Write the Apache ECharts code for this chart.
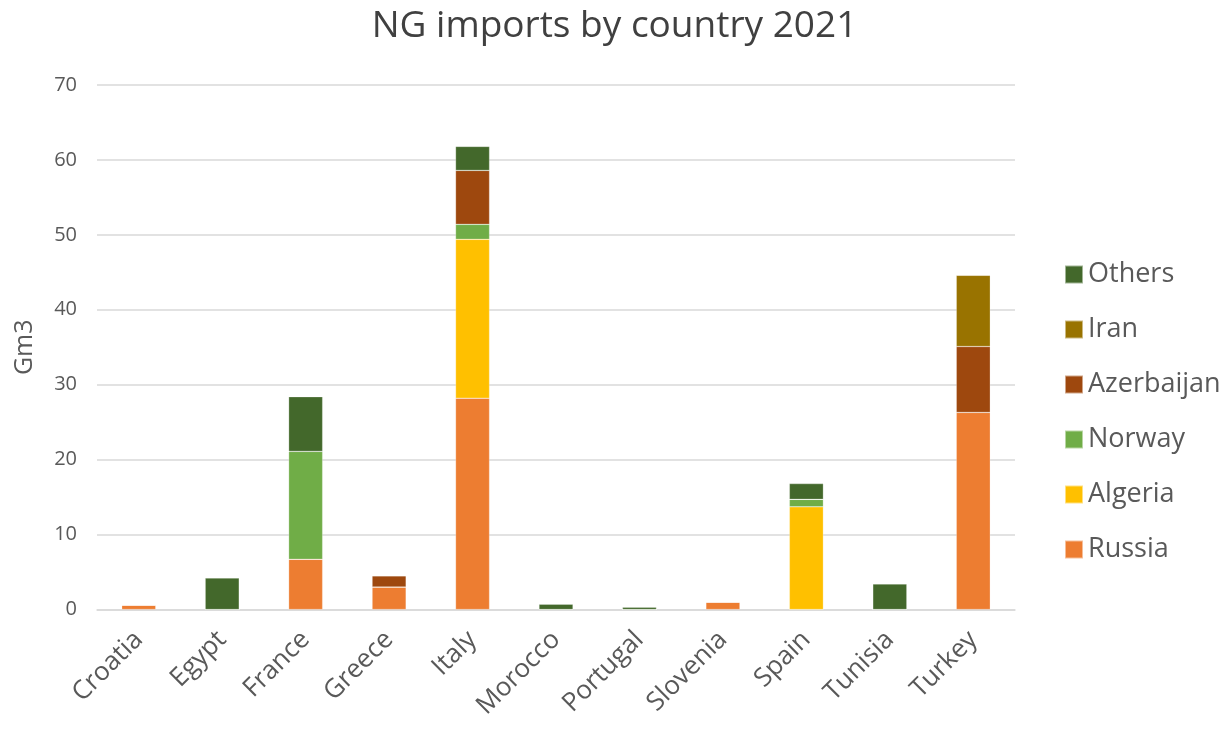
<!DOCTYPE html>
<html><head><meta charset="utf-8">
<script src="https://cdn.jsdelivr.net/npm/echarts@6/dist/echarts.min.js"></script>
<style>html,body{margin:0;padding:0;background:#fff}#c{width:1229px;height:731px}</style>
</head><body><div id="c"></div>
<script>
const categories = ['Croatia','Egypt','France','Greece','Italy','Morocco','Portugal','Slovenia','Spain','Tunisia','Turkey'];
const russia     = [0.6, 0,   6.7, 3.0, 28.2, 0,   0,   1.0, 0,    0,   26.3];
const algeria    = [0,   0,   0,   0,   21.2, 0,   0,   0,   13.7, 0,   0];
const norway     = [0,   0,   14.4,0,   2.0,  0,   0,   0,   1.0,  0,   0];
const azerbaijan = [0,   0,   0,   1.5, 7.2,  0,   0,   0,   0,    0,   8.8];
const iran       = [0,   0,   0,   0,   0,    0,   0,   0,   0,    0,   9.5];
const others     = [0,   4.2, 7.3, 0,   3.2,  0.7, 0.3, 0,   2.1,  3.4, 0];
const yTicks = [0,10,20,30,40,50,60,70];

const FONT = 'Open Sans, Noto Sans, sans-serif';
const colors = {Russia:'#ED7D31',Algeria:'#FFC000',Norway:'#70AD47',Azerbaijan:'#9E480E',Iran:'#997300',Others:'#43682B'};
const seriesDefs = [['Russia',russia],['Algeria',algeria],['Norway',norway],['Azerbaijan',azerbaijan],['Iran',iran],['Others',others]];
const chart = echarts.init(document.getElementById('c'));
chart.setOption({
  animation:false,
  title:{text:'NG imports by country 2021',left:'center',top:3,textStyle:{fontFamily:FONT,fontSize:37,fontWeight:'normal',color:'#404040'}},
  grid:{left:97,right:214,top:85,bottom:121.5},
  legend:{orient:'vertical',left:1059,top:256,itemWidth:18,itemHeight:18,itemGap:28,icon:'rect',
    data:['Others','Iran','Azerbaijan','Norway','Algeria','Russia'],
    textStyle:{fontFamily:FONT,fontSize:27,color:'#595959',padding:[0,0,0,0]}},
  xAxis:{type:'category',data:categories,
    axisLine:{lineStyle:{color:'#d9d9d9',width:1.5}},axisTick:{show:false},
    axisLabel:{rotate:45,fontFamily:FONT,fontSize:26,color:'#595959',margin:26,interval:0}},
  yAxis:{type:'value',min:0,max:70,interval:10,name:'Gm3',nameLocation:'middle',nameGap:60,
    nameTextStyle:{fontFamily:FONT,fontSize:25,color:'#595959'},
    axisLabel:{fontFamily:FONT,fontSize:20,color:'#595959',margin:20,
      formatter:v=>yTicks.includes(v)?String(v):''},
    splitLine:{lineStyle:{color:'#d9d9d9',width:1.5}},axisLine:{show:false},axisTick:{show:false}},
  series:seriesDefs.map(([n,d])=>({name:n,type:'bar',stack:'total',data:d,barWidth:34,
    itemStyle:{color:colors[n],borderColor:'rgba(255,255,255,0.5)',borderWidth:0.5}}))
});
</script></body></html>
